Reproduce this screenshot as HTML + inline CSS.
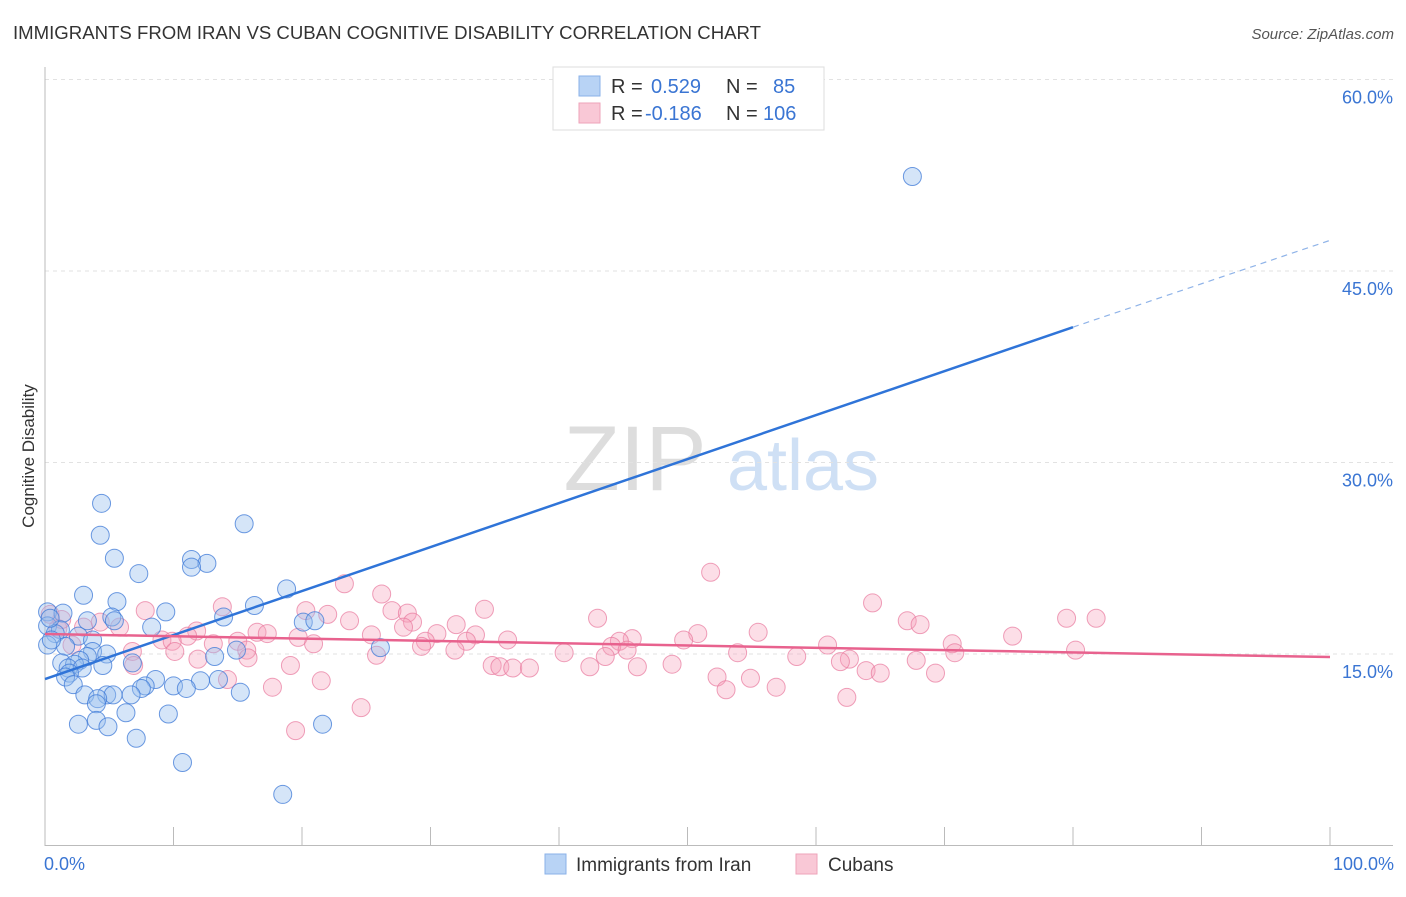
<!DOCTYPE html>
<html><head><meta charset="utf-8"><style>
body{margin:0;background:#fff;font-family:"Liberation Sans",sans-serif;}
svg text{font-family:"Liberation Sans",sans-serif;}
</style></head><body>
<svg id="chart" width="1406" height="892" xmlns="http://www.w3.org/2000/svg">
<text x="13" y="39" font-size="18.6" fill="#333">IMMIGRANTS FROM IRAN VS CUBAN COGNITIVE DISABILITY CORRELATION CHART</text>
<text x="1394" y="39" font-size="15" fill="#555" text-anchor="end" font-style="italic">Source: ZipAtlas.com</text>
<text transform="translate(34,456) rotate(-90)" font-size="17" fill="#333" text-anchor="middle">Cognitive Disability</text>
<g>
<text x="635" y="490" font-size="92" fill="#ddd" text-anchor="middle" font-family="Liberation Serif, serif">ZIP</text>
<text x="803" y="490" font-size="72" fill="#cfe0f5" text-anchor="middle">atlas</text>
</g>
<g id="grid"></g>
<g id="axes"></g>
<g id="points"></g>
<g id="trends"></g>
<g>
<rect x="553" y="67" width="271" height="63" fill="#fff" stroke="#ddd"/>
<rect x="579" y="76" width="21" height="20" fill="#b8d3f5" stroke="#8ab2e8"/>
<rect x="579" y="103" width="21" height="20" fill="#f9c8d6" stroke="#eea3ba"/>
<text x="611" y="93" font-size="20" fill="#333">R =</text>
<text x="651" y="93" font-size="20" fill="#3a75d3">0.529</text>
<text x="726" y="93" font-size="20" fill="#333">N =</text>
<text x="773" y="93" font-size="20" fill="#3a75d3">85</text>
<text x="611" y="120" font-size="20" fill="#333">R =</text>
<text x="645" y="120" font-size="20" fill="#3a75d3">-0.186</text>
<text x="726" y="120" font-size="20" fill="#333">N =</text>
<text x="763" y="120" font-size="20" fill="#3a75d3">106</text>
</g>
<g>
<rect x="545" y="854" width="21" height="20" fill="#b8d3f5" stroke="#8ab2e8"/>
<text x="576" y="871" font-size="19" fill="#333">Immigrants from Iran</text>
<rect x="796" y="854" width="21" height="20" fill="#f9c8d6" stroke="#eea3ba"/>
<text x="828" y="871" font-size="19" fill="#333">Cubans</text>
</g>
</svg>
<script>
const xTicks=[0,10,20,30,40,50,60,70,80,90,100];
const yTicks=[15,30,45,60];
const iranX=[67.5,4.4,15.5,4.3,5.4,11.4,12.6,11.4,7.3,18.8,3.0,5.6,16.3,9.4,0.2,1.4,13.9,5.2,3.3,5.4,20.1,21.0,0.2,8.3,1.2,0.8,2.6,3.7,0.2,1.6,26.1,14.9,3.7,4.8,3.3,2.7,13.2,1.3,4.5,6.8,2.3,1.8,2.9,1.9,1.6,8.6,13.5,12.1,2.2,7.8,10.0,11.0,7.5,15.2,3.1,6.7,4.8,5.3,4.1,4.0,6.3,9.6,4.0,2.6,4.9,21.6,7.1,10.7,18.5,0.4,0.5];
const iranY=[52.4,26.8,25.2,24.3,22.5,22.4,22.1,21.8,21.3,20.1,19.6,19.1,18.8,18.3,18.3,18.2,17.9,17.9,17.6,17.6,17.5,17.6,17.2,17.1,16.9,16.6,16.4,16.1,15.7,15.6,15.5,15.3,15.2,15.0,14.8,14.5,14.8,14.3,14.1,14.3,14.2,13.9,13.9,13.5,13.2,13.0,13.0,12.9,12.6,12.5,12.5,12.3,12.3,12.0,11.8,11.8,11.8,11.8,11.5,11.1,10.4,10.3,9.8,9.5,9.3,9.5,8.4,6.5,4.0,17.8,16.1];
const cubaX=[51.8,23.3,26.2,64.4,34.2,7.8,13.8,20.3,27.0,28.2,22.0,81.8,79.5,43.0,67.1,68.1,23.7,28.6,27.9,32.0,5.8,3.0,1.0,11.8,16.5,17.3,55.5,50.8,49.7,75.3,30.5,33.5,45.7,19.7,25.4,11.1,9.1,9.9,15.0,20.9,36.0,44.7,32.8,29.6,60.9,70.6,13.1,29.3,44.1,45.3,31.9,40.4,53.9,70.8,80.2,6.8,10.1,15.7,25.8,43.6,58.5,62.6,11.9,15.8,61.9,67.8,42.4,46.1,48.8,34.8,35.4,36.4,37.7,19.1,6.9,63.9,65.0,69.3,52.3,54.9,14.2,21.5,17.7,53.0,56.9,62.4,24.6,19.5,0.4,1.3,4.3,2.1];
const cubaY=[21.4,20.5,19.7,19.0,18.5,18.4,18.7,18.4,18.4,18.2,18.1,17.8,17.8,17.8,17.6,17.3,17.6,17.5,17.1,17.3,17.1,17.1,17.0,16.8,16.7,16.6,16.7,16.6,16.1,16.4,16.6,16.5,16.2,16.3,16.5,16.4,16.1,16.0,16.0,15.8,16.1,16.0,16.0,16.0,15.7,15.8,15.8,15.6,15.6,15.3,15.3,15.1,15.1,15.1,15.3,15.2,15.2,15.3,14.9,14.8,14.8,14.6,14.6,14.7,14.4,14.5,14.0,14.0,14.2,14.1,14.0,13.9,13.9,14.1,14.1,13.7,13.5,13.5,13.2,13.1,13.0,12.9,12.4,12.2,12.4,11.6,10.8,9.0,18.1,17.7,17.5,15.7];
const iranTrendX=[0,80,100];
const iranTrendY=[13.04,40.6,47.4];
const cubaTrendX=[0,100];
const cubaTrendY=[16.57,14.76];

const NS="http://www.w3.org/2000/svg";
const sx=v=>45+v*12.85;
const sy=v=>845.5-v*12.767;
function mk(tag,attrs,parent){const e=document.createElementNS(NS,tag);for(const k in attrs)e.setAttribute(k,attrs[k]);parent.appendChild(e);return e;}
const grid=document.getElementById('grid'),axes=document.getElementById('axes'),pts=document.getElementById('points'),tr=document.getElementById('trends');
yTicks.forEach(t=>{
  const l=mk('line',{x1:45,x2:1393,y1:sy(t),y2:sy(t),stroke:'#e2e2e2','stroke-dasharray':'4,4'},grid);
  
  
  const tx=mk('text',{x:1393,y:sy(t)+24,'font-size':18,fill:'#3a75d3','text-anchor':'end'},grid);
  tx.textContent=t.toFixed(1)+'%';
  
  
});
const ya=mk('line',{x1:45,x2:45,y1:67,y2:846,stroke:'#bbb'},axes);


const xa=mk('line',{x1:45,x2:1393,y1:845.5,y2:845.5,stroke:'#bbb'},axes);


xTicks.forEach(t=>{
  const l=mk('line',{x1:sx(t),x2:sx(t),y1:827,y2:846,stroke:'#bbb'},axes);
  
  
});
[[0,'start'],[100,'end']].forEach(([t,a])=>{
  const tx=mk('text',{x:t===0?44:1394,y:870,'font-size':18,fill:'#3a75d3','text-anchor':a},axes);
  tx.textContent=t.toFixed(1)+'%';
  
  
});
cubaX.forEach((x,i)=>{
  const c=mk('circle',{cx:sx(x),cy:sy(cubaY[i]),r:9,fill:'rgba(246,160,186,0.35)',stroke:'rgba(232,120,156,0.7)','stroke-width':1},pts);
  
  
});
iranX.forEach((x,i)=>{
  const c=mk('circle',{cx:sx(x),cy:sy(iranY[i]),r:9,fill:'rgba(150,190,238,0.4)',stroke:'rgba(60,120,215,0.75)','stroke-width':1},pts);
  
  
});
const bl=mk('line',{x1:sx(iranTrendX[0]),y1:sy(iranTrendY[0]),x2:sx(iranTrendX[1]),y2:sy(iranTrendY[1]),stroke:'#2f74d8','stroke-width':2.5},tr);


const bd=mk('line',{x1:sx(iranTrendX[1]),y1:sy(iranTrendY[1]),x2:sx(iranTrendX[2]),y2:sy(iranTrendY[2]),stroke:'#8fb3e8','stroke-width':1.2,'stroke-dasharray':'6,5'},tr);


const pl=mk('line',{x1:sx(cubaTrendX[0]),y1:sy(cubaTrendY[0]),x2:sx(cubaTrendX[1]),y2:sy(cubaTrendY[1]),stroke:'#e8628e','stroke-width':2.5},tr);


</script>
</body></html>
